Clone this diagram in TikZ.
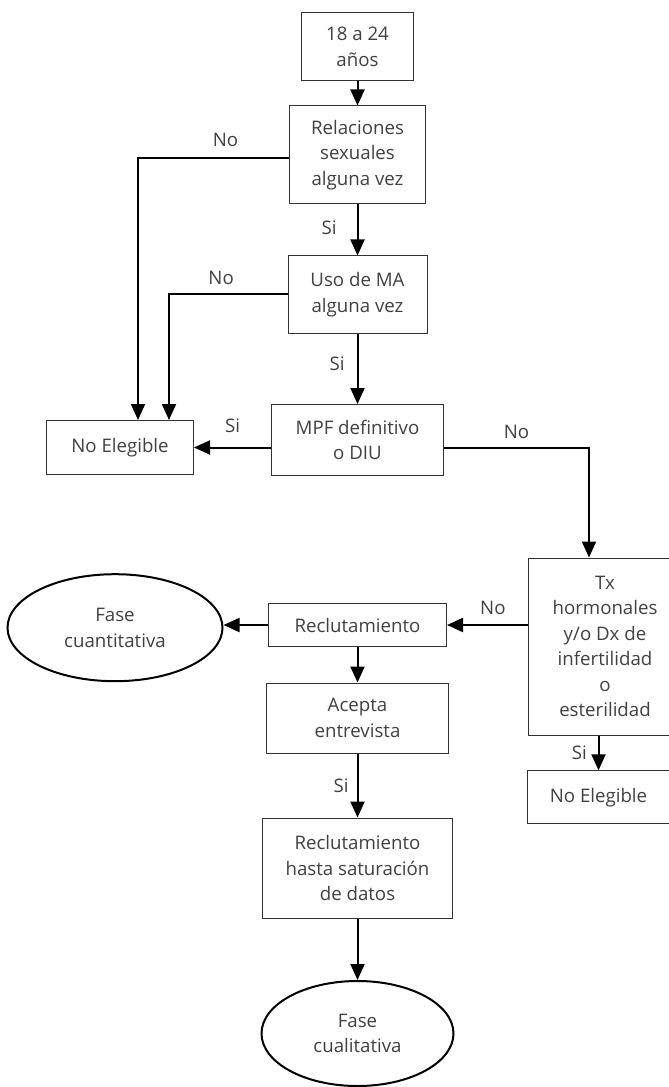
\documentclass[tikz,border=0pt]{standalone}
\usepackage{fontspec}
\setmainfont{Open Sans}
\usetikzlibrary{arrows.meta,shapes.geometric}
\definecolor{texto}{RGB}{64,64,64}

\begin{document}
\begin{tikzpicture}[
            x=0.75pt,y=-0.75pt,
            every node/.append style={text=texto,font=\fontsize{14}{19.1}\selectfont},
            caja/.style={draw=black!80,line width=0.75pt,align=center,inner sep=0pt},
            elipse/.style={ellipse,draw=black,line width=1.5pt,align=center,inner sep=0pt},
            flecha/.style={draw=black,line width=1.5pt,-{Triangle[width=10.5pt,length=12pt]}},
            etiqueta/.style={inner sep=1pt}
        ]
            \useasboundingbox (0,0) rectangle (668,1087);

            % columna central
            \node[caja,minimum width=84pt,minimum height=51pt] (edad) at (357.5,47) {18 a 24\\años};
            \node[caja,minimum width=102pt,minimum height=73.5pt] (relaciones) at (357.5,155) {Relaciones\\sexuales\\alguna vez};
            \node[caja,minimum width=104.25pt,minimum height=57.75pt] (uso) at (357.5,294.5) {Uso de MA\\alguna vez};
            \node[caja,minimum width=129pt,minimum height=53.25pt] (mpf) at (357.5,440) {MPF definitivo\\o DIU};
            \node[caja,minimum width=110.25pt,minimum height=40.5pt] (noeleg1) at (120,447.5) {No Elegible};
            \node[caja,minimum width=115.5pt,minimum height=132.75pt] (tx) at (605,646.5) {Tx\\hormonales\\y/o Dx de\\infertilidad\\o\\esterilidad};
            \node[caja,minimum width=107.25pt,minimum height=39.75pt] (noeleg2) at (598.5,797.3) {No Elegible};
            \node[caja,minimum width=133.5pt,minimum height=32.25pt] (reclut) at (357.5,625) {Reclutamiento};
            \node[elipse,minimum width=161.25pt,minimum height=80.25pt] (cuanti) at (115,627.7) {Fase\\cuantitativa};
            \node[caja,minimum width=136.5pt,minimum height=52.5pt] (acepta) at (357.5,718) {Acepta\\entrevista};
            \node[caja,minimum width=142.5pt,minimum height=75pt] (saturacion) at (357.5,868) {Reclutamiento\\hasta saturación\\de datos};
            \node[elipse,minimum width=144pt,minimum height=78.75pt] (cuali) at (357.5,1033.5) {Fase\\cualitativa};

            % conectores
            \draw[flecha] (edad) -- (relaciones);
            \draw[flecha] (relaciones) -- node[etiqueta,left=14pt,pos=0.45] (si1) {Si} (uso);
            \draw[flecha] ([yshift=-2.25pt]relaciones.west) -| node[etiqueta,above=6.5pt,pos=0.21] (no1) {No} ([xshift=13.5pt]noeleg1.north);
            \draw[flecha] (uso.west) -| node[etiqueta,above=5.75pt,pos=0.28] (no2) {No} ([xshift=36.75pt]noeleg1.north);
            \draw[flecha] (uso) -- node[etiqueta,left=8pt,pos=0.43] (si2) {Si} (mpf);
            \draw[flecha] (mpf.west |- noeleg1.east) -- node[etiqueta,above=9pt] (si3) {Si} (noeleg1.east);
            \draw[flecha] (mpf.east |- noeleg1.east) -| node[etiqueta,above=5pt,pos=0.25] (no3) {No} ([xshift=-12pt]tx.north);
            \draw[flecha] (tx.west |- reclut.east) -- node[etiqueta,above=6pt,pos=0.43] (no4) {No} (reclut.east);
            \draw[flecha] (noeleg2.north |- tx.south) -- node[etiqueta,left=7pt] (si4) {Si} (noeleg2.north);
            \draw[flecha] (reclut.west) -- (reclut.west -| cuanti.east);
            \draw[flecha] (reclut) -- (acepta);
            \draw[flecha] (acepta) -- node[etiqueta,left=5pt] (si5) {Si} (saturacion);
            \draw[flecha] (saturacion) -- (cuali);
        \end{tikzpicture}
\end{document}
